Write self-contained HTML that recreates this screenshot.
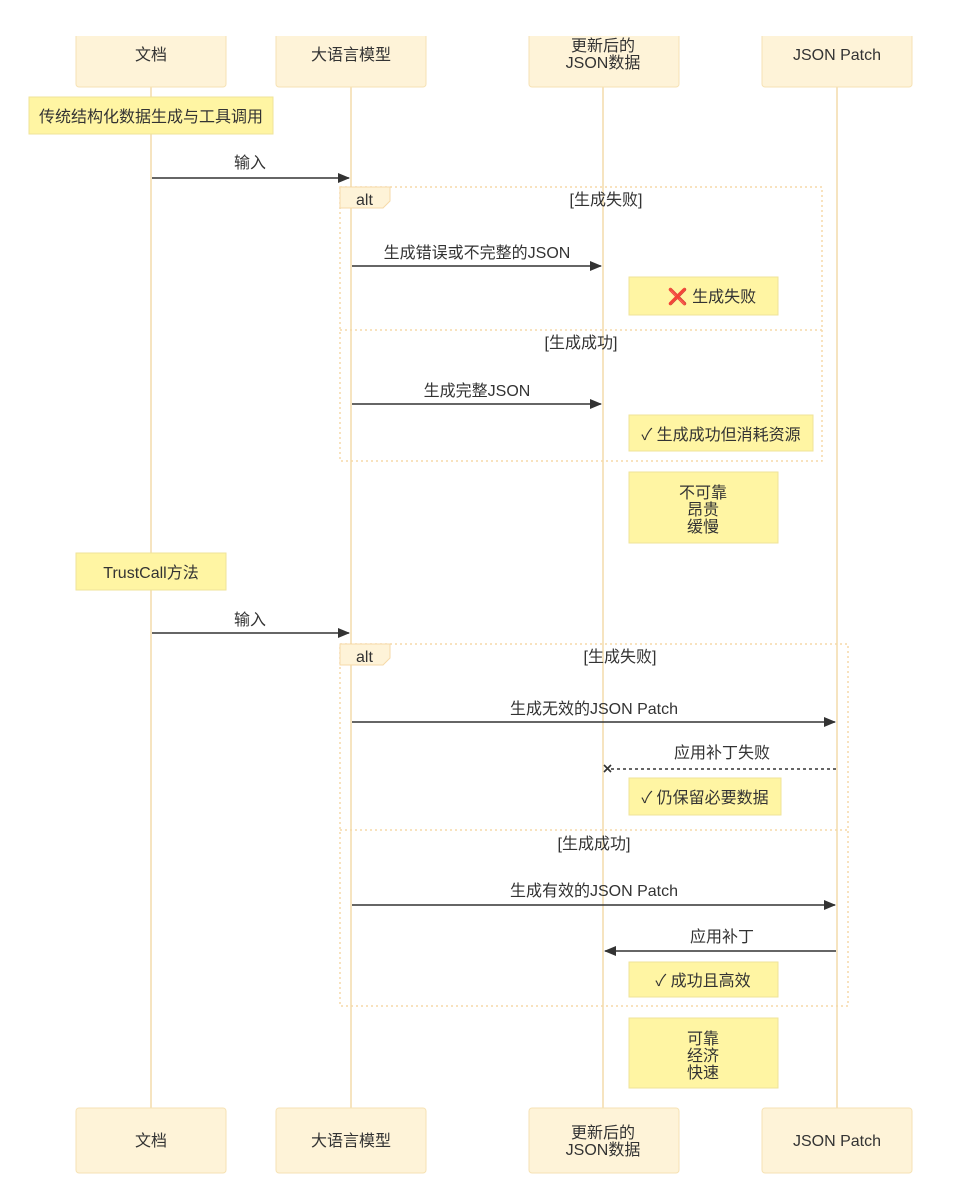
<!DOCTYPE html>
<html><head><meta charset="utf-8"><style>
body{margin:0;background:#fff;}
svg text{font-family:"Liberation Sans","Noto Sans CJK SC",sans-serif;font-size:16px;fill:#333;}
</style></head><body>
<svg width="978" height="1194" viewBox="0 0 978 1194" xmlns="http://www.w3.org/2000/svg">
<defs>
<marker id="ar" markerWidth="12" markerHeight="10" refX="11" refY="5" orient="auto" markerUnits="userSpaceOnUse"><path d="M0,0 L12,5 L0,10 z" fill="#333"/></marker>
</defs>
<g stroke="#f3dcab" stroke-width="1.5">
<line x1="151" y1="87" x2="151" y2="1108"/>
<line x1="351" y1="87" x2="351" y2="1108"/>
<line x1="603" y1="87" x2="603" y2="1108"/>
<line x1="837" y1="87" x2="837" y2="1108"/>
</g>
<g fill="#fef3d8" stroke="#f6e2b4" stroke-width="1">
<rect x="76" y="30" width="150" height="57" rx="3"/>
<rect x="276" y="30" width="150" height="57" rx="3"/>
<rect x="529" y="30" width="150" height="57" rx="3"/>
<rect x="762" y="30" width="150" height="57" rx="3"/>
<rect x="76" y="1108" width="150" height="65" rx="3"/>
<rect x="276" y="1108" width="150" height="65" rx="3"/>
<rect x="529" y="1108" width="150" height="65" rx="3"/>
<rect x="762" y="1108" width="150" height="65" rx="3"/>
</g>
<rect x="0" y="0" width="978" height="36" fill="#fff"/>
<g text-anchor="middle">
<text x="151" y="60">文档</text>
<text x="351" y="60">大语言模型</text>
<text x="603" y="51">更新后的</text><text x="603" y="68">JSON数据</text>
<text x="837" y="60">JSON Patch</text>
<text x="151" y="1146">文档</text>
<text x="351" y="1146">大语言模型</text>
<text x="603" y="1138">更新后的</text><text x="603" y="1155">JSON数据</text>
<text x="837" y="1146">JSON Patch</text>
</g>
<g fill="none" stroke="#f5d9a8" stroke-width="1.5" stroke-dasharray="2,3">
<rect x="340" y="187" width="482" height="274"/>
<line x1="340" y1="330" x2="822" y2="330"/>
<rect x="340" y="644" width="508" height="362"/>
<line x1="340" y1="830" x2="848" y2="830"/>
</g>
<path d="M340,187 H390 V201 L383,208 H340 Z" fill="#fef3d8" stroke="#f5d9a8"/>
<path d="M340,644 H390 V658 L383,665 H340 Z" fill="#fef3d8" stroke="#f5d9a8"/>
<text x="356" y="205">alt</text>
<text x="356" y="662">alt</text>
<g text-anchor="middle">
<text x="606" y="205">[生成失败]</text>
<text x="581" y="348">[生成成功]</text>
<text x="620" y="662">[生成失败]</text>
<text x="594" y="849">[生成成功]</text>
</g>
<g fill="#fff5a3" stroke="#efe39a" stroke-width="1">
<rect x="29" y="97" width="244" height="37"/>
<rect x="629" y="277" width="149" height="38"/>
<rect x="629" y="415" width="184" height="36"/>
<rect x="629" y="472" width="149" height="71"/>
<rect x="76" y="553" width="150" height="37"/>
<rect x="629" y="778" width="152" height="37"/>
<rect x="629" y="962" width="149" height="35"/>
<rect x="629" y="1018" width="149" height="70"/>
</g>
<g text-anchor="middle">
<text x="151" y="122">传统结构化数据生成与工具调用</text>
<text x="712" y="302"><tspan fill="#e02020" font-weight="bold">❌</tspan> 生成失败</text>
<text x="721" y="440">✓ 生成成功但消耗资源</text>
<text x="703" y="498">不可靠</text><text x="703" y="515">昂贵</text><text x="703" y="532">缓慢</text>
<text x="151" y="578">TrustCall方法</text>
<text x="705" y="803">✓ 仍保留必要数据</text>
<text x="703" y="986">✓ 成功且高效</text>
<text x="703" y="1044">可靠</text><text x="703" y="1061">经济</text><text x="703" y="1078">快速</text>
</g>
<g stroke="#333" stroke-width="1.6" fill="none">
<line x1="152" y1="178" x2="349" y2="178" marker-end="url(#ar)"/>
<line x1="352" y1="266" x2="601" y2="266" marker-end="url(#ar)"/>
<line x1="352" y1="404" x2="601" y2="404" marker-end="url(#ar)"/>
<line x1="152" y1="633" x2="349" y2="633" marker-end="url(#ar)"/>
<line x1="352" y1="722" x2="835" y2="722" marker-end="url(#ar)"/>
<line x1="836" y1="769" x2="610" y2="769" stroke-dasharray="3,3"/>
<path d="M604,765 L611,772 M611,765 L604,772"/>
<line x1="352" y1="905" x2="835" y2="905" marker-end="url(#ar)"/>
<line x1="836" y1="951" x2="605" y2="951" marker-end="url(#ar)"/>
</g>
<g text-anchor="middle">
<text x="250" y="168">输入</text>
<text x="477" y="258">生成错误或不完整的JSON</text>
<text x="477" y="396">生成完整JSON</text>
<text x="250" y="625">输入</text>
<text x="594" y="714">生成无效的JSON Patch</text>
<text x="722" y="758">应用补丁失败</text>
<text x="594" y="896">生成有效的JSON Patch</text>
<text x="722" y="942">应用补丁</text>
</g>
</svg>
</body></html>
